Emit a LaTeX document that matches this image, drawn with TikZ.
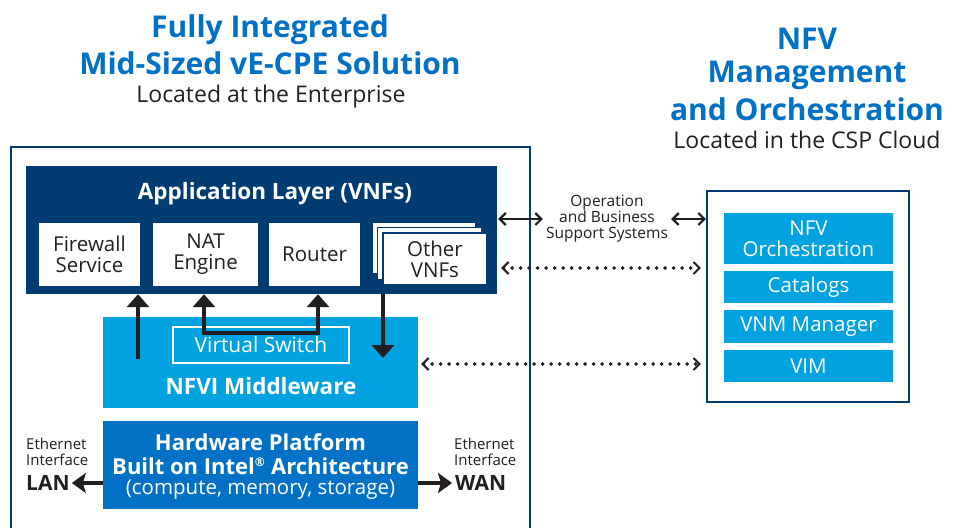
\documentclass[tikz,border=0pt]{standalone}
\usepackage{fontspec}
\setmainfont{Open Sans}
\usetikzlibrary{arrows.meta}
\definecolor{navy}{HTML}{003C71}
\definecolor{lblue}{HTML}{00A3E0}
\definecolor{iblue}{HTML}{0071C5}
\definecolor{ink}{HTML}{231F20}
\newcommand{\fs}[2]{\fontsize{#1}{#2}\selectfont}
\begin{document}
\begin{tikzpicture}[x=1pt,y=-1pt,
  txt/.style={inner sep=0pt, text=ink},
  ttl/.style={inner sep=0pt, text=iblue, font=\fs{30}{30}\bfseries},
  sub/.style={inner sep=0pt, text=ink, font=\fs{23}{23}},
  blk/.style={draw=none, inner sep=0pt, align=center},
  wbox/.style={fill=white, draw=navy, line width=1.5pt, inner sep=0pt, align=center, text=ink, font=\fs{20.5}{21}},
  mbox/.style={fill=lblue, draw=none, inner sep=0pt, align=center, text=white, font=\fs{20.5}{21}, minimum width=169pt},
  fat/.style={line width=4pt, draw=ink, -{Triangle[width=22pt,length=13pt]}},
  fatd/.style={line width=4pt, draw=ink, {Triangle[width=22pt,length=13pt]}-{Triangle[width=22pt,length=13pt]}},
  side/.style={line width=4pt, draw=ink, -{Stealth[width=20pt,length=14pt,inset=3pt]}},
  dbl/.style={line width=2.2pt, draw=ink, {Straight Barb[width=12pt,length=6pt]}-{Straight Barb[width=12pt,length=6pt]}},
  dots/.style={line width=3.8pt, draw=ink, line cap=round, dash pattern=on 0pt off 8.5pt, {Straight Barb[width=12pt,length=6pt,line width=2pt]}-{Straight Barb[width=12pt,length=6pt,line width=2pt]}},
]
\useasboundingbox (0,0) rectangle (960,527);
\fill[white] (0,0) rectangle (960,527);

% titles
\node[ttl] (t1) at (270,30) {Fully Integrated};
\node[ttl] (t2) at (270,63) {Mid-Sized vE-CPE Solution};
\node[sub] (t3) at (271,97) {Located at the Enterprise};
\node[ttl] (t4) at (807,39) {NFV};
\node[ttl] (t5) at (807,75) {Management};
\node[ttl] (t6) at (807,109) {and Orchestration};
\node[sub] (t7) at (807,140) {Located in the CSP Cloud};

% enterprise frame (open at bottom)
\draw[navy, line width=2.2pt] (11,530) -- (11,147) -- (530,147) -- (530,530);

% application layer
\node[blk, fill=navy, minimum width=471pt, minimum height=128pt] (app) at (261.5,230) {};
\node[inner sep=0pt, text=white, font=\fs{22.5}{22.5}\bfseries] (applbl) at (275,194) {Application Layer (VNFs)};
\node[wbox, minimum width=103pt, minimum height=64pt] (fw) at (89.5,254.5) {Firewall\\Service};
\node[wbox, minimum width=107pt, minimum height=64pt] (nat) at (205.5,254.5) {NAT\\Engine};
\node[wbox, minimum width=93pt, minimum height=64pt] (rt) at (314.5,254.5) {Router};
\node[wbox, minimum width=104pt, minimum height=52pt] (oth3) at (424,248) {};
\node[wbox, minimum width=104pt, minimum height=52pt] (oth2) at (429.5,253.5) {};
\node[wbox, minimum width=104pt, minimum height=52pt] (oth) at (435,259) {Other\\VNFs};

% NFVI middleware
\node[blk, fill=lblue, minimum width=315pt, minimum height=91pt] (nfvi) at (260.5,362.5) {};
\node[draw=white, line width=1.2pt, minimum width=176pt, minimum height=36pt, inner sep=0pt, text=white, font=\fs{21}{21}] (vs) at (261,345) {\raisebox{-3pt}{Virtual Switch}};
\node[inner sep=0pt, text=white, font=\fs{22.5}{22.5}\bfseries] (nfvilbl) at (261,386) {NFVI Middleware};

% hardware
\node[blk, fill=iblue, minimum width=315pt, minimum height=88pt] (hw) at (260.5,465) {};
\node[inner sep=0pt, text=white, font=\fs{22}{22}\bfseries] (hw1) at (260.5,442) {Hardware Platform};
\node[inner sep=0pt, text=white, font=\fs{22}{22}\bfseries] (hw2) at (260.5,466) {Built on Intel\textsuperscript{\fs{12}{12}®} Architecture};
\node[inner sep=0pt, text=white, font=\fs{20.5}{20.5}] (hw3) at (260.5,490) {(compute, memory, storage)};

% vertical arrows
\coordinate (a1) at (138,359);
\draw[fat] (a1) -- (app.south -| a1);
\coordinate (s1) at (204,333);
\coordinate (s2) at (318,333);
\draw[fatd] (app.south -| s1) -- (s1) -- (s2) -- (app.south -| s2);
\coordinate (d1) at (383,358);
\draw[fat] (app.south -| d1) -- (d1);

% LAN / WAN
\node[txt, anchor=west, align=left, font=\fs{15}{16}] (ethl) at (26,452) {Ethernet\\Interface};
\node[txt, anchor=west, font=\fs{21}{21}\bfseries] (lan) at (26,483) {LAN};
\node[txt, anchor=west, align=left, font=\fs{15}{16}] (ethr) at (454,452) {Ethernet\\Interface};
\node[txt, anchor=west, font=\fs{21}{21}\bfseries] (wan) at (455,483) {WAN};
\draw[side] (hw.west |- lan) -- ([xshift=2pt]lan.east);
\draw[side] (hw.east |- wan) -- ([xshift=-3pt]wan.west);

% MANO
\node[blk, draw=navy, line width=2.2pt, fill=white, minimum width=202pt, minimum height=211pt] (mano) at (808,296.5) {};
\node[mbox, minimum height=51pt] (orch) at (808.5,238.5) {NFV\\Orchestration};
\node[mbox, minimum height=32pt] (cat) at (808.5,287) {Catalogs};
\node[mbox, minimum height=33pt] (vnm) at (808.5,326.5) {VNM Manager};
\node[mbox, minimum height=32pt] (vim) at (808.5,366) {VIM};

% OSS connections
\node[txt, align=center, font=\fs{15.5}{16}, inner xsep=3pt] (oss) at (607,219) {Operation\\and Business\\Support Systems};
\draw[dbl] ([xshift=1pt]app.east |- oss) -- (oss.west);
\draw[dbl] (oss.east) -- (mano.west |- oss);
\coordinate (r1) at (0,268);
\draw[dots] ([xshift=4pt]app.east |- r1) -- ([xshift=-5pt]mano.west |- r1);
\coordinate (r2) at (0,364);
\draw[dots] ([xshift=3pt]nfvi.east |- r2) -- ([xshift=-5pt]mano.west |- r2);
\end{tikzpicture}
\end{document}
